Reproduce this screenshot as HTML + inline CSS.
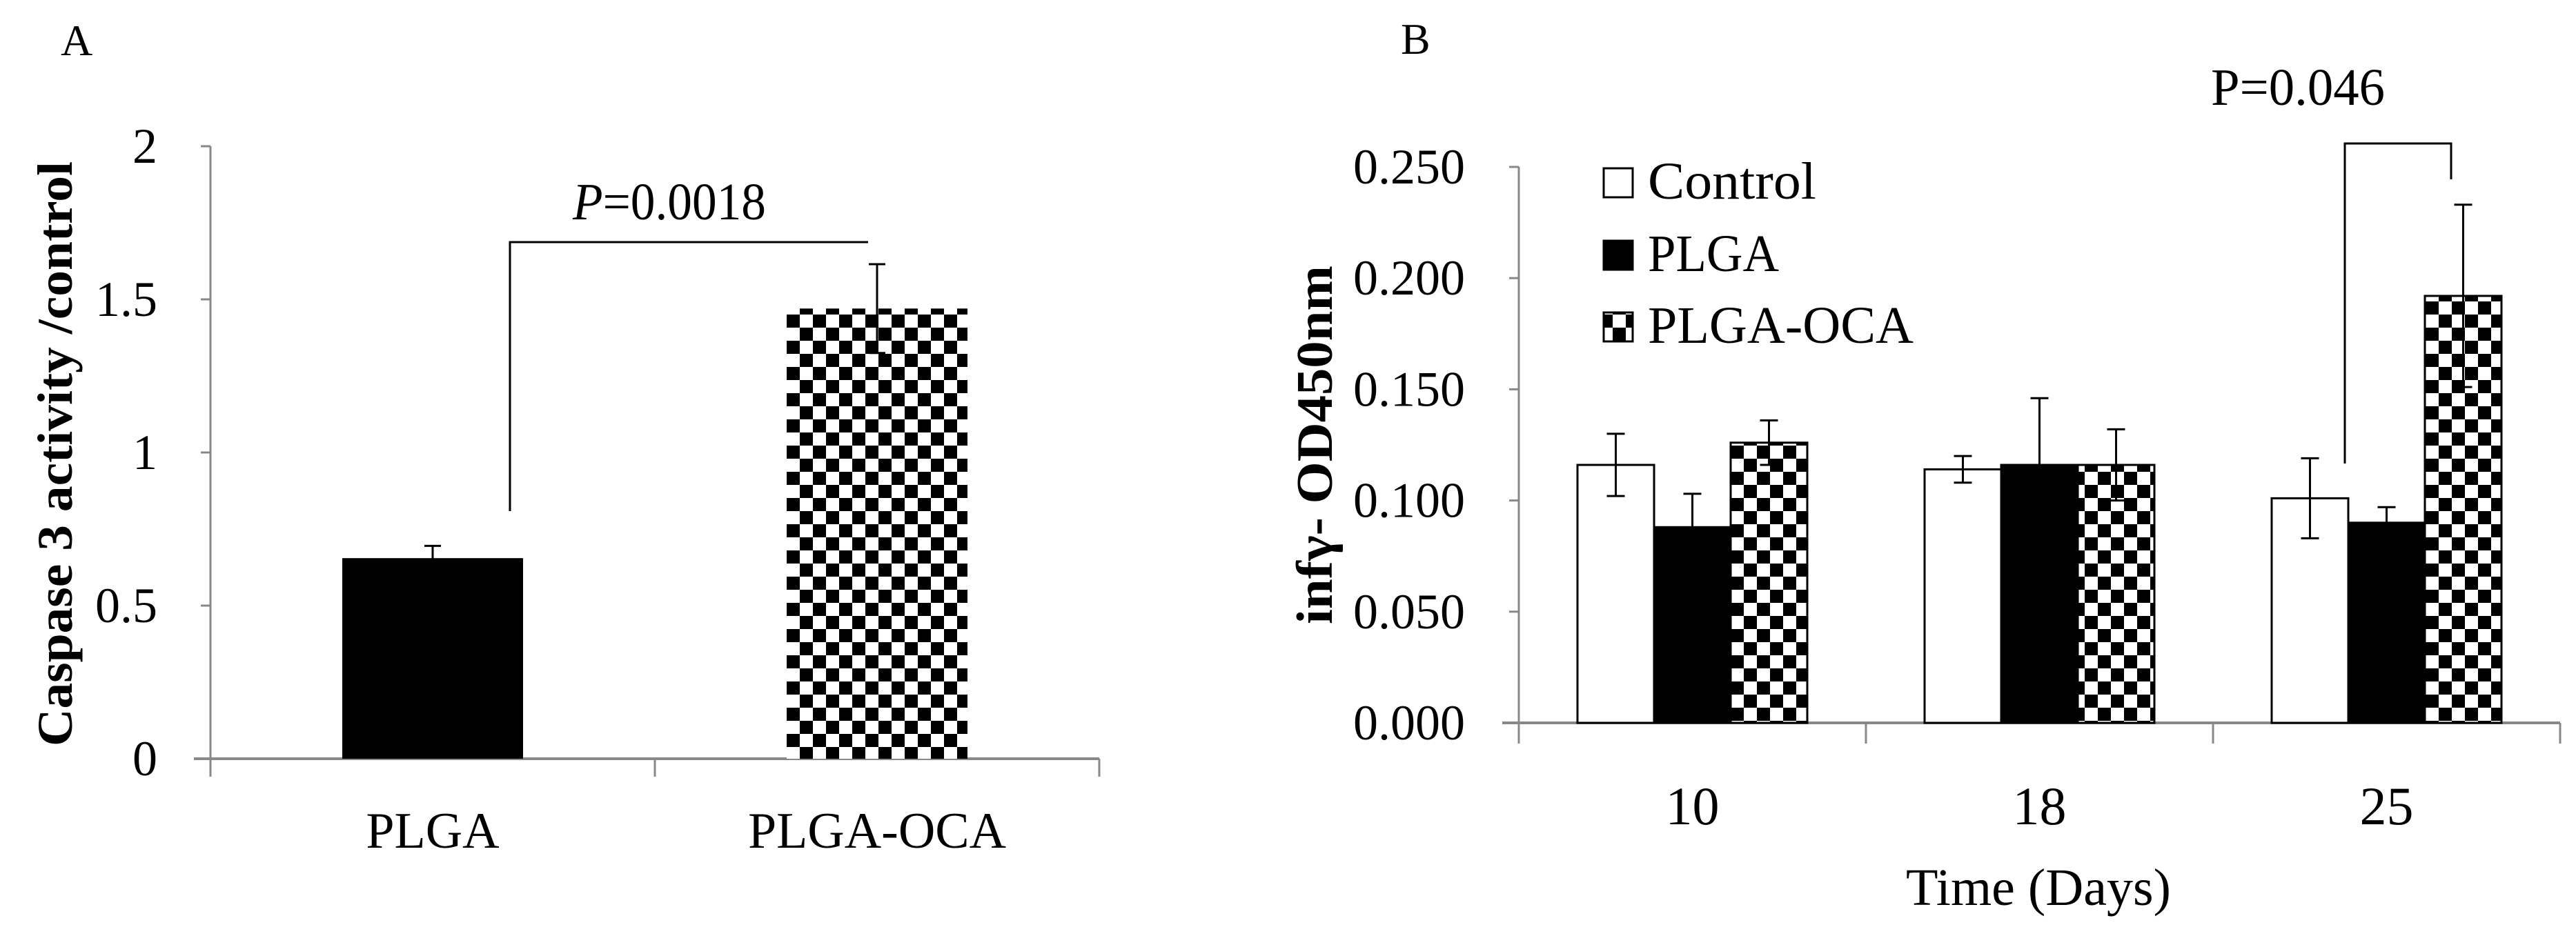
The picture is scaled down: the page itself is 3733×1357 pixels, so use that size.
<!DOCTYPE html>
<html><head><meta charset="utf-8"><style>
html,body{margin:0;padding:0;background:#fff;}
svg{display:block;font-family:"Liberation Serif",serif;}
</style></head><body>
<svg id="c" width="3733" height="1357" viewBox="0 0 3733 1357">
<defs>
<pattern id="chk" width="38" height="38" patternUnits="userSpaceOnUse">
<rect width="38" height="38" fill="#fff"/><rect width="19" height="19" fill="#000"/><rect x="19" y="19" width="19" height="19" fill="#000"/>
</pattern>
</defs>
<text x="88" y="80" font-size="64">A</text>
<text x="2030" y="78" font-size="64">B</text>
<g id="ga"></g>
<g id="gb"></g>
</svg>
<script>
// Panel A data
const aCats = ["PLGA","PLGA-OCA"];
const aVals = [0.655, 1.47];
const aErr = [0.04, 0.145];
const aTicks = [0,0.5,1,1.5,2];
const aTickLabels = ["0","0.5","1","1.5","2"];
// Panel B data
const bCats = ["10","18","25"];
const bSeries = ["Control","PLGA","PLGA-OCA"];
const bControl = [0.116,0.114,0.101];
const bPLGA = [0.088,0.116,0.090];
const bOCA = [0.126,0.116,0.192];
const bControlErr = [0.014,0.006,0.018];
const bPLGAErr = [0.015,0.030,0.007];
const bOCAErr = [0.010,0.016,0.041];
const bTicks = [0,0.05,0.1,0.15,0.2,0.25];
const bTickLabels = ["0.000","0.050","0.100","0.150","0.200","0.250"];

const NS="http://www.w3.org/2000/svg";
function mk(p,t,a,txt){const e=document.createElementNS(NS,t);for(const k in a)e.setAttribute(k,a[k]);if(txt!==undefined)e.textContent=txt;p.appendChild(e);return e;}
const fills=["#fff","#000","url(#chk)"];

// ---- Panel A
(function(){
const g=document.getElementById('ga');
const x0=305,x1=1593,y0=1100,yTop=212;
const ys=v=>y0-(v/2)*(y0-yTop);
const bw=(x1-x0)/aCats.length;
const ax=mk(g,'line',{x1:x0,y1:yTop,x2:x0,y2:y0,stroke:'#888','stroke-width':3});

const xa=mk(g,'line',{x1:x0-24,y1:y0,x2:x1,y2:y0,stroke:'#888','stroke-width':4});

aTicks.forEach((t,i)=>{
 mk(g,'line',{x1:x0-14,y1:ys(t),x2:x0,y2:ys(t),stroke:'#888','stroke-width':3});
 const l=mk(g,'text',{x:228,y:ys(t)+24,'font-size':72,'text-anchor':'end'},aTickLabels[i]);
 
});
for(let i=0;i<=aCats.length;i++) mk(g,'line',{x1:x0+i*bw,y1:y0,x2:x0+i*bw,y2:y0+26,stroke:'#888','stroke-width':3});
aCats.forEach((c,i)=>{
 const cx=x0+bw*(i+0.5), w=262;
 const r=mk(g,'rect',{x:cx-w/2,y:ys(aVals[i]),width:w,height:y0-ys(aVals[i]),fill:i?'url(#chk)':'#000'});
 
 const top=ys(aVals[i]+aErr[i]),bot=ys(aVals[i]-aErr[i]);
 mk(g,'line',{x1:cx,y1:top,x2:cx,y2:bot,stroke:'#000','stroke-width':3});
 mk(g,'line',{x1:cx-12,y1:top,x2:cx+12,y2:top,stroke:'#000','stroke-width':3});
 mk(g,'line',{x1:cx-12,y1:bot,x2:cx+12,y2:bot,stroke:'#000','stroke-width':3});
 const l=mk(g,'text',{x:cx,y:1229,'font-size':74,'text-anchor':'middle'},c);
 
});
const br=mk(g,'polyline',{points:'739,741 739,351 1258,351',fill:'none',stroke:'#000','stroke-width':3});

const p=mk(g,'text',{x:970,y:318,'font-size':76,'text-anchor':'middle',textLength:280,lengthAdjust:'spacingAndGlyphs'});

mk(p,'tspan',{'font-style':'italic'},'P');mk(p,'tspan',{},'=0.0018');
const yt=mk(g,'text',{x:0,y:0,'font-size':72,'font-weight':'bold','text-anchor':'middle',textLength:848,lengthAdjust:'spacingAndGlyphs',transform:'translate(104,658) rotate(-90)'},'Caspase 3 activity /control');

})();

// ---- Panel B
(function(){
const g=document.getElementById('gb');
const x0=2201,y0=1048,yTop=242;
const ys=v=>y0-(v/0.25)*(y0-yTop);
const gw=503, bw=111;
const ya=mk(g,'line',{x1:x0,y1:yTop,x2:x0,y2:y0,stroke:'#888','stroke-width':3});

const xa=mk(g,'line',{x1:x0-24,y1:y0,x2:x0+gw*3,y2:y0,stroke:'#888','stroke-width':4});

bTicks.forEach((t,i)=>{
 mk(g,'line',{x1:x0-14,y1:ys(t),x2:x0,y2:ys(t),stroke:'#888','stroke-width':3});
 const l=mk(g,'text',{x:2123,y:ys(t)+24,'font-size':72,'text-anchor':'end'},bTickLabels[i]);
 
});
for(let i=0;i<=3;i++) mk(g,'line',{x1:x0+i*gw,y1:y0,x2:x0+i*gw,y2:y0+30,stroke:'#888','stroke-width':3});
const vals=[bControl,bPLGA,bOCA], errs=[bControlErr,bPLGAErr,bOCAErr];
bCats.forEach((c,ci)=>{
 const gc=x0+gw*(ci+0.5);
 vals.forEach((arr,si)=>{
  const cx=gc+(si-1)*bw, v=arr[ci];
  const r=mk(g,'rect',{x:cx-bw/2,y:ys(v),width:bw,height:y0-ys(v),fill:fills[si],stroke:'#000','stroke-width':3});
  
  
  const top=ys(v+errs[si][ci]),bot=ys(v-errs[si][ci]);
  mk(g,'line',{x1:cx,y1:top,x2:cx,y2:bot,stroke:'#000','stroke-width':3});
  mk(g,'line',{x1:cx-13,y1:top,x2:cx+13,y2:top,stroke:'#000','stroke-width':3});
  mk(g,'line',{x1:cx-13,y1:bot,x2:cx+13,y2:bot,stroke:'#000','stroke-width':3});
 });
 const l=mk(g,'text',{x:gc,y:1195,'font-size':78,'text-anchor':'middle'},c);
 
});
const xt=mk(g,'text',{x:2954,y:1312,'font-size':76,'text-anchor':'middle',textLength:384,lengthAdjust:'spacingAndGlyphs'},'Time (Days)');

const yt=mk(g,'text',{x:0,y:0,'font-size':74,'font-weight':'bold','text-anchor':'middle',textLength:520,lengthAdjust:'spacingAndGlyphs',transform:'translate(1930,645) rotate(-90)'},'infγ- OD450nm');

const lw=[244,190,385];
const lb=[288,393,497];
bSeries.forEach((s,i)=>{
 const y=lb[i];
 const b=mk(g,'rect',{x:2324,y:y-44,width:42,height:42,fill:fills[i],stroke:'#000','stroke-width':3});
 
 const t=mk(g,'text',{x:2388,y:y,'font-size':76,textLength:lw[i],lengthAdjust:'spacingAndGlyphs'},s);
 
});
const br=mk(g,'polyline',{points:'3398,672 3398,208 3552,208 3552,260',fill:'none',stroke:'#000','stroke-width':3});

const p=mk(g,'text',{x:3330,y:152,'font-size':76,'text-anchor':'middle',textLength:252,lengthAdjust:'spacingAndGlyphs'},'P=0.046');

})();
</script>
</body></html>
